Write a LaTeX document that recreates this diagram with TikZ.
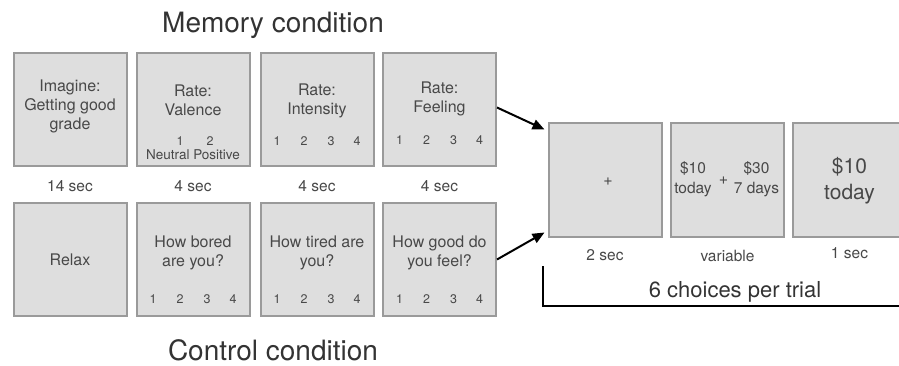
\documentclass[tikz,border=0pt]{standalone}
\usepackage{fontspec}
\setmainfont{TeX Gyre Heros}
\usetikzlibrary{arrows.meta}
\definecolor{panelfill}{HTML}{DEDEDE}
\definecolor{panelline}{HTML}{9A9A9A}
\definecolor{ink}{HTML}{484848}
\begin{document}
\begin{tikzpicture}[x=1pt,y=-1pt,
  panel/.style={draw=panelline,fill=panelfill,line width=2pt,minimum size=113pt,inner sep=0pt},
  txt/.style={text=ink,align=center,inner sep=0pt,font=\fontsize{16}{19}\selectfont},
  num/.style={text=ink,inner sep=0pt,font=\fontsize{12.5}{14}\selectfont},
  dur/.style={text=ink,inner sep=0pt,font=\fontsize{15.5}{18}\selectfont},
  head/.style={text=black!80,inner sep=0pt,font=\fontsize{28}{32}\selectfont},
  flow/.style={line width=2pt,-{Triangle[length=12pt,width=10pt]}}]
\useasboundingbox (0,0) rectangle (899,366);
\node [head] (memhead) at (273,25) {Memory condition};
\node [head] (ctlhead) at (273,350) {Control condition};
\node [panel] (mI) at (70,109.5) {};
\node [panel] (mV) at (193,109.5) {};
\node [panel] (mIn) at (317,109.5) {};
\node [panel] (mF) at (439.5,109.5) {};
\node [panel] (cR) at (70,259.5) {};
\node [panel] (cB) at (193,259.5) {};
\node [panel] (cT) at (317,259.5) {};
\node [panel] (cG) at (439.5,259.5) {};
\node [panel] (fix) at (605,180) {};
\node [panel] (opt) at (727.5,180) {};
\node [panel] (pick) at (849.5,180) {};
\node [txt] (mIt) at ([yshift=3pt]mI.center) {Imagine:\\Getting good\\grade};
\node [txt] (mVt) at ([yshift=9pt]mV.center) {Rate:\\Valence};
\node [txt] (mInt) at ([yshift=9pt]mIn.center) {Rate:\\Intensity};
\node [txt] (mFt) at ([yshift=11pt]mF.center) {Rate:\\Feeling};
\node [txt] (cRt) at (cR.center) {Relax};
\node [txt] (cBt) at ([yshift=7pt]cB.center) {How bored\\are you?};
\node [txt] (cTt) at ([yshift=7pt]cT.center) {How tired are\\you?};
\node [txt] (cGt) at ([yshift=7pt]cG.center) {How good do\\you feel?};
\node [num] (mV1) at ([xshift=-13pt,yshift=26pt]mV.south) {1};
\node [num] (mV2) at ([xshift=17pt,yshift=26pt]mV.south) {2};
\node [num,font=\fontsize{13.5}{15}\selectfont] (mVs) at ([yshift=12pt]mV.south) {Neutral Positive};
\foreach \bx/\up in {mIn/26,mF/27,cB/18,cT/18,cG/18}
  \foreach \n/\dx in {1/-40,2/-13,3/14,4/40}
    \node [num] (\bx\n) at ([xshift=\dx pt,yshift=\up pt]\bx.south) {\n};
\foreach \bx/\lab in {mI/14 sec,mV/4 sec,mIn/4 sec,mF/4 sec}
  \node [dur] (\bx d) at ([yshift=-19pt]\bx.south) {\lab};
\node [num,font=\fontsize{16}{18}\selectfont] (fixt) at ([xshift=3pt,yshift=-2pt]fix.center) {+};
\node [txt,font=\fontsize{15.5}{20}\selectfont] (optl) at ([xshift=-34.5pt,yshift=1pt]opt.center) {\$10\\today};
\node [num,font=\fontsize{16}{18}\selectfont] (optp) at ([xshift=-4pt,yshift=-1pt]opt.center) {+};
\node [txt,font=\fontsize{15.5}{20}\selectfont] (optr) at ([xshift=29pt,yshift=1pt]opt.center) {\$30\\7 days};
\node [txt,font=\fontsize{21}{26}\selectfont] (pickt) at ([yshift=-1pt]pick.center) {\$10\\today};
\node [dur] (fixd) at ([yshift=-18pt]fix.south) {2 sec};
\node [dur] (optd) at ([yshift=-18pt]opt.south) {variable};
\node [dur] (pickd) at ([yshift=-16pt]pick.south) {1 sec};
\draw [flow] ([yshift=2pt]mF.east) -- ([xshift=-3pt,yshift=-7pt]fix.north west);
\draw [flow] (cG.east) -- ([xshift=-3pt,yshift=5pt]fix.south west);
\coordinate (brk) at (543,266);
\draw [line width=2pt] (brk) -- (543,306) -- (905,306);
\node [head,font=\fontsize{22}{26}\selectfont] (trial) at (735,292) {6 choices per trial};
\end{tikzpicture}
\end{document}
